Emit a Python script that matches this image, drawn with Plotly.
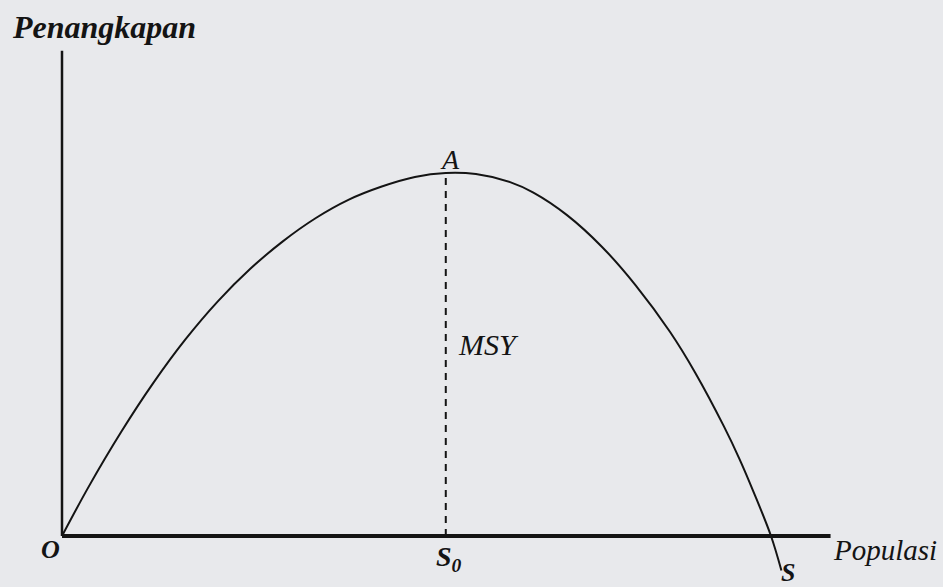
import numpy as np
import plotly.graph_objects as go

# Sustainable yield curve (population vs. catch), scaled so S = 100 and MSY = 100
populasi = [0.0, 3.77, 8.36, 12.86, 17.35, 22.01, 26.56, 31.10, 35.81, 40.39,
            45.00, 49.77, 54.13, 58.38, 63.20, 66.49, 71.23, 76.14, 80.94, 85.77,
            89.31, 93.36, 95.56, 97.55, 100.0, 101.47]
penangkapan = [0.0, 13.6, 28.7, 42.1, 54.0, 64.7, 73.6, 81.1, 87.6, 92.6,
               96.2, 98.9, 100.0, 99.7, 97.5, 94.6, 88.4, 79.7, 69.0, 56.2,
               45.0, 30.2, 21.2, 12.1, 0.0, -9.5]

# Extent of the drawn axes
AXIS_X_END = 108.4
AXIS_Y_END = 133.7

i_max = int(np.argmax(penangkapan))
x_msy, y_msy = populasi[i_max], penangkapan[i_max]
i_root = penangkapan.index(0.0, 1)
x_s = populasi[i_root]

INK = "#141414"
BG = "#e8e9ec"
SERIF = "Liberation Serif"

fig = go.Figure()

# axes
fig.add_shape(type="line", x0=0, y0=0, x1=AXIS_X_END, y1=0,
              line=dict(color=INK, width=4), layer="above")
fig.add_shape(type="line", x0=0, y0=0, x1=0, y1=AXIS_Y_END,
              line=dict(color=INK, width=2.5), layer="above")

# yield curve
fig.add_trace(go.Scatter(x=populasi, y=penangkapan, mode="lines",
                         line=dict(color=INK, width=2, shape="spline", smoothing=1),
                         hoverinfo="skip", showlegend=False))

# MSY drop line
fig.add_trace(go.Scatter(x=[x_msy, x_msy], y=[0, y_msy], mode="lines",
                         line=dict(color=INK, width=2, dash="7px,6px"),
                         hoverinfo="skip", showlegend=False))

def label(text, x, y, size, xanchor="center", yanchor="middle",
          xshift=0, yshift=0, bold=False, xref="x", yref="y"):
    t = f"<b><i>{text}</i></b>" if bold else f"<i>{text}</i>"
    fig.add_annotation(text=t, x=x, y=y, xref=xref, yref=yref, showarrow=False,
                       xanchor=xanchor, yanchor=yanchor, xshift=xshift, yshift=yshift,
                       font=dict(family=SERIF, size=size, color=INK))

label("Penangkapan", 10 / 943, 1 - 27 / 587, 32, xanchor="left",
      bold=True, xref="paper", yref="paper")
label("Populasi", AXIS_X_END, 0, 29, xanchor="left", yshift=-14)
label("A", x_msy, y_msy, 28, yanchor="bottom", xshift=4, yshift=-4)
label("MSY", x_msy, y_msy / 2, 30, xanchor="left", xshift=10, yshift=10)
label("O", 0, 0, 26, xshift=-12, yshift=-13, bold=True)
label("S<sub>0</sub>", x_msy, 0, 28, yanchor="top", xshift=3, yshift=-3, bold=True)
label("S", x_s, 0, 26, xshift=17, yshift=-36, bold=True)

fig.update_layout(
    width=943, height=587,
    margin=dict(l=0, r=0, t=0, b=0),
    paper_bgcolor=BG, plot_bgcolor=BG,
    xaxis=dict(range=[-62 / 7.09, 881 / 7.09], visible=False, fixedrange=True),
    yaxis=dict(range=[-51 / 3.63, 536 / 3.63], visible=False, fixedrange=True),
)

fig.write_html("out.html")
